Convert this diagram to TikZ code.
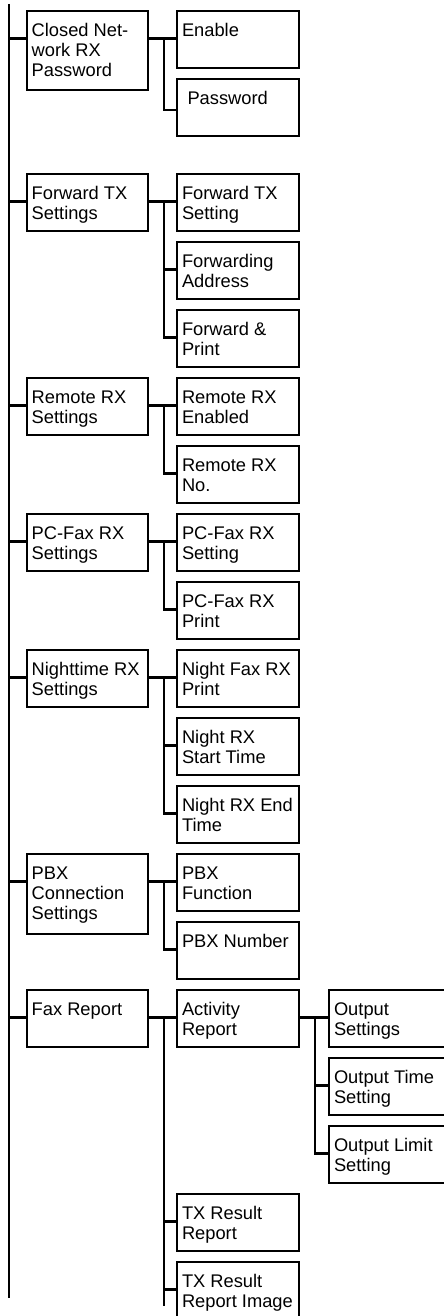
\documentclass[tikz,border=0pt]{standalone}
\usepackage{fontspec}
\setmainfont{Liberation Sans}
\begin{document}
\begin{tikzpicture}[x=1pt,y=-1pt,
  boxst/.style={draw=black,line width=2.2pt,inner sep=0pt,outer sep=0pt,rectangle},
  textst/.style={inner sep=0pt,outer sep=0pt,align=left,font=\fontsize{18.3}{20}\selectfont},
  wire/.style={line width=2.2pt,line cap=butt}]
\fill[white] (0,0) rectangle (444,1316);
\useasboundingbox (0,0) rectangle (444,1316);
% name, x, top, width, height, connector offset, text xshift, text
\newcommand\mybox[8]{%
  \node[boxst,minimum width=#4pt,minimum height=#5pt,anchor=north west] (#1) at (#2,#3) {};
  \node[textst,anchor=north west] (#1t) at ([xshift=#7pt,yshift=-12.6pt]#1.north west) {#8};
  \coordinate (#1-in) at ([yshift=-#6pt]#1.north west);
}
% level 1
\mybox{a1}{26.7}{11}{121.3}{79}{27.5}{5}{Closed Net-\\work RX\\Password}
\mybox{a2}{26.7}{174}{121.3}{57}{27.5}{5}{Forward TX\\Settings}
\mybox{a3}{26.7}{378}{121.3}{57}{27.5}{5}{Remote RX\\Settings}
\mybox{a4}{26.7}{514}{121.3}{57}{27.5}{5}{PC-Fax RX\\Settings}
\mybox{a5}{26.7}{650}{121.3}{57}{27.5}{5}{Nighttime RX\\Settings}
\mybox{a6}{26.7}{854}{121.3}{80}{27.5}{5}{PBX\\Connection\\Settings}
\mybox{a7}{26.7}{990}{121.3}{57}{27.5}{5}{Fax Report}
% level 2
\mybox{b11}{177}{11}{122}{57}{27.5}{5}{Enable}
\mybox{b12}{177}{79}{122}{57}{31}{10.5}{Password}
\mybox{b21}{177}{174}{122}{57}{27.5}{5}{Forward TX\\Setting}
\mybox{b22}{177}{242}{122}{57}{27.5}{5}{Forwarding\\Address}
\mybox{b23}{177}{310}{122}{57}{27.5}{5}{Forward \&\\Print}
\mybox{b31}{177}{378}{122}{57}{27.5}{5}{Remote RX\\Enabled}
\mybox{b32}{177}{446}{122}{57}{27.5}{5}{Remote RX\\No.}
\mybox{b41}{177}{514}{122}{57}{27.5}{5}{PC-Fax RX\\Setting}
\mybox{b42}{177}{582}{122}{57}{27.5}{5}{PC-Fax RX\\Print}
\mybox{b51}{177}{650}{122}{57}{27.5}{5}{Night Fax RX\\Print}
\mybox{b52}{177}{718}{122}{57}{27.5}{5}{Night RX\\Start Time}
\mybox{b53}{177}{786}{122}{57}{27.5}{5}{Night RX End\\Time}
\mybox{b61}{177}{854}{122}{57}{27.5}{5}{PBX\\Function}
\mybox{b62}{177}{922}{122}{57}{27.5}{5}{PBX Number}
\mybox{b71}{177}{990}{122}{57}{27.5}{5}{Activity\\Report}
\mybox{b72}{177}{1194}{122}{57}{27.5}{5}{TX Result\\Report}
\mybox{b73}{177}{1262}{122}{70}{27.5}{5}{TX Result\\Report Image}
% level 3
\mybox{c1}{329}{990}{124}{57}{27.5}{5}{Output\\Settings}
\mybox{c2}{329}{1058}{124}{57}{27.5}{5}{Output Time\\Setting}
\mybox{c3}{329}{1126}{124}{57}{27.5}{5}{Output Limit\\Setting}
% trunk lines
\coordinate (mtop) at (9,4);
\coordinate (mbot) at (9,1298);
\coordinate (s) at (164,0);
\coordinate (t) at (315,0);
\coordinate (send) at (164,1306);
\draw[wire] (mtop) -- (mbot);
\foreach \a in {a1,a2,a3,a4,a5,a6,a7}{\draw[wire] (\a-in -| mtop) -- (\a-in);}
% level 1 -> level 2
\draw[wire] (a1.east |- b11-in) -- (b11-in);
\draw[wire] (b11-in -| s) -- (b12-in -| s) -- (b12-in);
\draw[wire] (a2.east |- b21-in) -- (b21-in);
\draw[wire] (b21-in -| s) -- (b23-in -| s) -- (b23-in);
\draw[wire] (b22-in -| s) -- (b22-in);
\draw[wire] (a3.east |- b31-in) -- (b31-in);
\draw[wire] (b31-in -| s) -- (b32-in -| s) -- (b32-in);
\draw[wire] (a4.east |- b41-in) -- (b41-in);
\draw[wire] (b41-in -| s) -- (b42-in -| s) -- (b42-in);
\draw[wire] (a5.east |- b51-in) -- (b51-in);
\draw[wire] (b51-in -| s) -- (b53-in -| s) -- (b53-in);
\draw[wire] (b52-in -| s) -- (b52-in);
\draw[wire] (a6.east |- b61-in) -- (b61-in);
\draw[wire] (b61-in -| s) -- (b62-in -| s) -- (b62-in);
\draw[wire] (a7.east |- b71-in) -- (b71-in);
\draw[wire] (b71-in -| s) -- (send);
\draw[wire] (b72-in -| s) -- (b72-in);
\draw[wire] (b73-in -| s) -- (b73-in);
% level 2 -> level 3
\draw[wire] (b71.east |- c1-in) -- (c1-in);
\draw[wire] (c1-in -| t) -- (c3-in -| t) -- (c3-in);
\draw[wire] (c2-in -| t) -- (c2-in);
\end{tikzpicture}
\end{document}
